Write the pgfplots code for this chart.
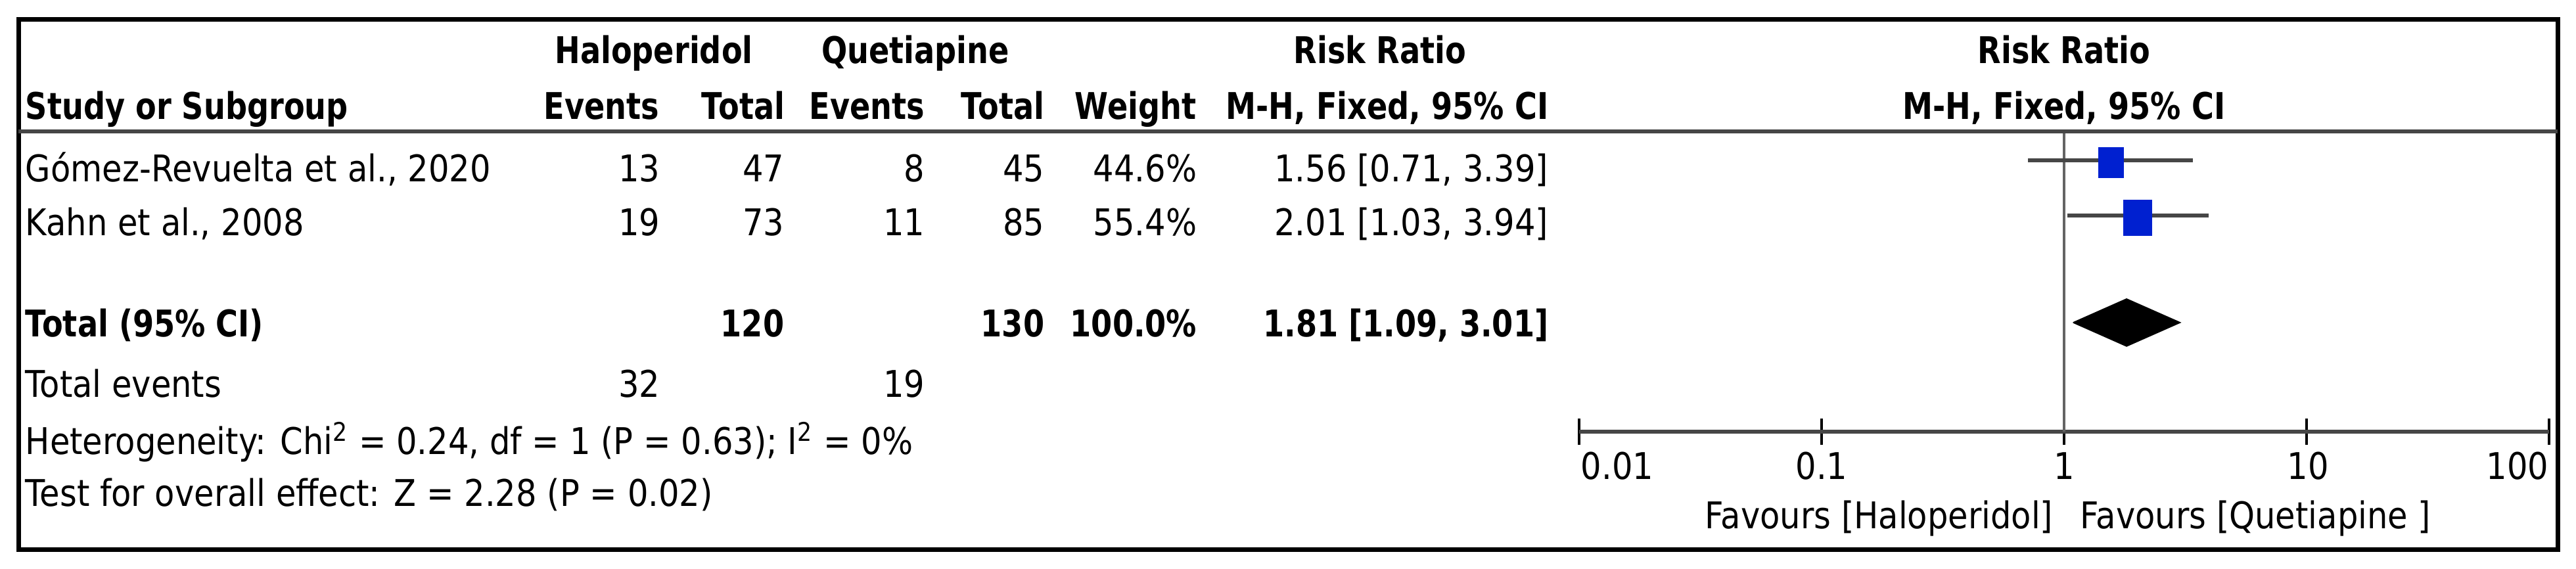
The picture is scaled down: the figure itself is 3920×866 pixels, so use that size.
\documentclass[border=0pt]{standalone}
\usepackage{fontspec}
\setmainfont{DejaVu Sans}[FakeStretch=0.885]
\newfontfamily\bfam{DejaVu Sans}[FakeStretch=0.825]
\usepackage{pgfplots}
\pgfplotsset{compat=1.18}
\definecolor{sqblue}{RGB}{0,32,208}
\definecolor{ln}{RGB}{70,70,70}
\definecolor{vl}{RGB}{100,100,100}
\definecolor{rule}{RGB}{70,70,70}
\newcommand\B[1]{{\bfam\bfseries #1}}
\begin{document}
\begin{tikzpicture}
\begin{axis}[at={(600.75pt,52.25pt)},anchor=south west,scale only axis,
  width=369pt,height=114.25pt,
  xmode=log,xmin=0.01,xmax=100,ymin=209,ymax=666,
  axis x line=bottom,axis y line=none,
  x axis line style={-,line width=1.6pt,draw=ln},
  xtick={0.01,0.1,1,10,100},xticklabels={},xminorticks=false,
  ytick=\empty,
  tick align=center,major tick length=10pt,
  xtick style={black,line width=0.8pt},
  clip=false]
\addplot[vl,line width=1pt] coordinates {(1,666) (1,209)};
\addplot[ln,line width=1.4pt] coordinates {(0.71,622) (3.39,622)};
\addplot[ln,line width=1.4pt] coordinates {(1.03,538) (3.94,538)};
\addplot[only marks,mark=square*,mark size=5.7pt,mark options={fill=sqblue,draw=sqblue,xscale=0.81}] coordinates {(1.56,618)};
\addplot[only marks,mark=square*,mark size=6.7pt,mark options={fill=sqblue,draw=sqblue,xscale=0.8}] coordinates {(2.01,534)};
\addplot[fill=black,draw=black] coordinates {(1.09,375) (1.81,411) (3.01,375) (1.81,339) (1.09,375)};
\end{axis}
\begin{scope}[x=0.25pt,y=0.25pt,every node/.style={inner sep=0pt,font=\fontsize{14pt}{16pt}\selectfont}]
\path (0,0) rectangle (3920,866);
\draw[line width=1.75pt,black] (28,836) rectangle (3892,29);
\draw[line width=1.6pt,rule] (28,666) -- (3892,666);
% header row 1
\node[anchor=base] at (995,769) {\B{Haloperidol}};
\node[anchor=base] at (1393,769) {\B{Quetiapine}};
\node[anchor=base] at (2100,769) {\B{Risk Ratio}};
\node[anchor=base] at (3141,769) {\B{Risk Ratio}};
% header row 2
\node[anchor=base west] at (38,684) {\B{Study or Subgroup}};
\node[anchor=base east] at (1004,684) {\B{Events}};
\node[anchor=base east] at (1195,684) {\B{Total}};
\node[anchor=base east] at (1408,684) {\B{Events}};
\node[anchor=base east] at (1590,684) {\B{Total}};
\node[anchor=base east] at (1821,684) {\B{Weight}};
\node[anchor=base east] at (2357,684) {\B{M-H, Fixed, 95\% CI}};
\node[anchor=base] at (3141,684) {\B{M-H, Fixed, 95\% CI}};
% row 1
\node[anchor=base west] at (38,589) {Gómez-Revuelta et al., 2020};
\node[anchor=base east] at (1005,589) {13};
\node[anchor=base east] at (1194,589) {47};
\node[anchor=base east] at (1408,589) {8};
\node[anchor=base east] at (1590,589) {45};
\node[anchor=base east] at (1822,589) {44.6\%};
\node[anchor=base east] at (2357,589) {1.56 [0.71, 3.39]};
% row 2
\node[anchor=base west] at (38,507) {Kahn et al., 2008};
\node[anchor=base east] at (1005,507) {19};
\node[anchor=base east] at (1194,507) {73};
\node[anchor=base east] at (1408,507) {11};
\node[anchor=base east] at (1590,507) {85};
\node[anchor=base east] at (1822,507) {55.4\%};
\node[anchor=base east] at (2357,507) {2.01 [1.03, 3.94]};
% total
\node[anchor=base west] at (38,353) {\B{Total (95\% CI)}};
\node[anchor=base east] at (1194,353) {\B{120}};
\node[anchor=base east] at (1590,353) {\B{130}};
\node[anchor=base east] at (1822,353) {\B{100.0\%}};
\node[anchor=base east] at (2357,353) {\B{1.81 [1.09, 3.01]}};
% total events etc
\node[anchor=base west] at (38,261) {Total events};
\node[anchor=base east] at (1005,261) {32};
\node[anchor=base east] at (1408,261) {19};
\node[anchor=base west] at (38,174) {Heterogeneity: Chi\textsuperscript{2} = 0.24, df = 1 (P = 0.63); I\textsuperscript{2} = 0\%};
\node[anchor=base west] at (38,95) {Test for overall effect: Z = 2.28 (P = 0.02)};
% tick labels
\node[anchor=base west] at (2405,136) {0.01};
\node[anchor=base] at (2772,136) {0.1};
\node[anchor=base] at (3141,136) {1};
\node[anchor=base] at (3512,136) {10};
\node[anchor=base east] at (3879,136) {100};
\node[anchor=base east] at (3125,61) {Favours [Haloperidol]};
\node[anchor=base west] at (3165,61) {Favours [Quetiapine ]};
\end{scope}
\end{tikzpicture}
\end{document}
